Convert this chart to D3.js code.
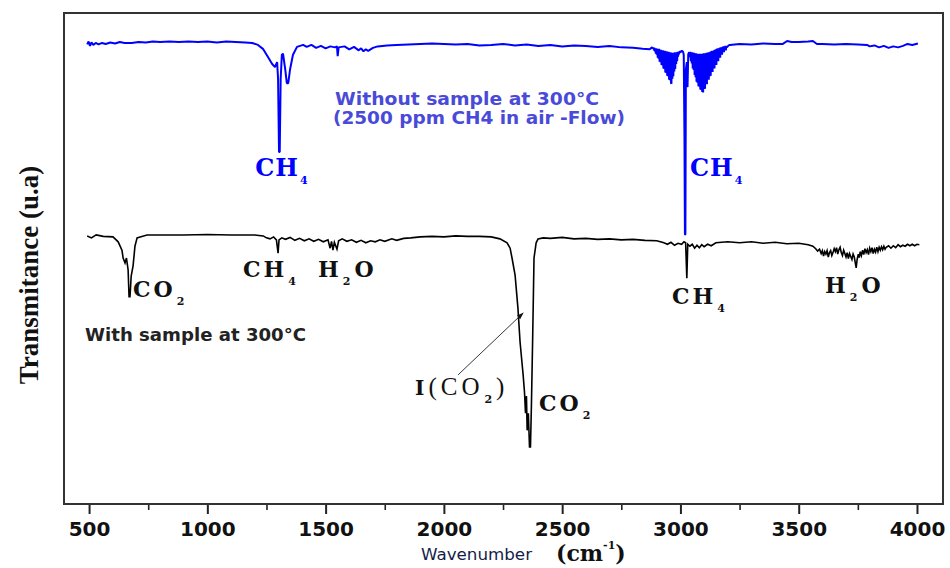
<!DOCTYPE html>
<html>
<head>
<meta charset="utf-8">
<script src="https://cdn.jsdelivr.net/npm/d3@7"></script>
<style>
  body { margin: 0; background: #fff; }
  svg { display: block; }
  .tick text { font-family: "DejaVu Sans", sans-serif; font-weight: bold; font-size: 20px; fill: #111; }
  .tick line { stroke: #222; stroke-width: 2; }
</style>
</head>
<body>
<div id="chart"></div>
<script>
// ---- DATA (wavenumber cm-1, transmittance a.u.) ----
var majorTicks = [500, 1000, 1500, 2000, 2500, 3000, 3500, 4000];
var minorTicks = [750, 1250, 1750, 2250, 2750, 3250, 3750];

// without sample, 2500 ppm CH4 in air
var blueSpectrum = [
  [492, 93.6], [498, 94.2], [504, 93.3], [510, 94.0], [518, 93.5], [528, 93.9], [540, 93.6], [555, 93.9],
  [570, 93.7], [590, 94.0], [610, 93.8], [630, 94.1], [650, 93.9], [680, 93.9], [710, 94.1], [740, 94.0],
  [770, 94.2], [800, 94.1], [840, 94.2], [880, 94.1], [920, 94.2], [960, 94.1], [1000, 94.2], [1040, 94.0],
  [1080, 94.2], [1120, 94.1], [1160, 94.0], [1190, 93.9], [1214, 93.5], [1235, 92.7], [1257, 91.0], [1274, 89.6],
  [1286, 89.0], [1295, 90.0], [1299, 86.6], [1303, 71.7], [1306, 71.7], [1310, 86.6], [1315, 91.5], [1320, 91.7],
  [1329, 88.6], [1336, 85.7], [1342, 85.7], [1350, 88.6], [1362, 91.5], [1379, 93.1], [1405, 93.5], [1420, 93.1],
  [1440, 93.5], [1460, 92.9], [1480, 93.3], [1500, 92.8], [1520, 93.2], [1540, 93.0], [1548, 93.2], [1551, 91.2],
  [1555, 93.0], [1580, 93.2], [1600, 92.6], [1620, 93.1], [1640, 92.4], [1650, 92.8], [1660, 92.2], [1670, 92.6],
  [1680, 92.3], [1700, 92.9], [1720, 93.2], [1760, 93.4], [1800, 93.5], [1850, 93.6], [1900, 93.7], [1950, 93.8],
  [2000, 93.7], [2050, 93.6], [2100, 93.7], [2150, 93.4], [2200, 93.5], [2250, 93.7], [2300, 93.4], [2350, 93.6],
  [2400, 93.3], [2450, 93.5], [2500, 93.2], [2550, 93.4], [2600, 93.3], [2650, 93.1], [2700, 93.3], [2750, 93.0],
  [2800, 92.9], [2840, 92.7], [2870, 92.6], [2880, 93.0],
  // P branch (dense rotational lines)
  [2884, 92.8], [2886, 93.0], [2888, 92.4], [2890, 92.9], [2892, 92.2], [2894, 92.8], [2896, 91.7], [2898, 92.8],
  [2900, 91.5], [2902, 92.7], [2904, 90.9], [2906, 92.6], [2908, 90.7], [2910, 92.7], [2912, 90.1], [2914, 92.5],
  [2916, 90.0], [2918, 92.5], [2920, 89.4], [2922, 92.4], [2924, 89.3], [2926, 92.4], [2928, 88.7], [2930, 92.3],
  [2932, 88.6], [2934, 92.3], [2936, 87.9], [2938, 92.2], [2940, 87.8], [2942, 92.2], [2944, 87.2], [2946, 92.1],
  [2948, 87.1], [2950, 92.1], [2952, 86.4], [2954, 92.0], [2956, 86.3], [2958, 92.0], [2960, 85.8], [2962, 85.6],
  [2964, 91.9], [2966, 86.6], [2968, 91.9], [2970, 87.1], [2972, 91.9], [2974, 88.1], [2976, 92.0], [2978, 88.6],
  [2980, 92.0], [2982, 89.6], [2984, 92.0], [2986, 90.2], [2988, 92.1], [2990, 91.1], [2992, 92.1], [2994, 91.6],
  [2996, 92.2], [3000, 92.0], [3006, 92.3], [3011, 92.1],
  // Q branch
  [3014, 91.5], [3017, 75.0], [3019, 54.9], [3021, 54.9], [3023, 88.5], [3027, 90.0], [3030, 84.9], [3033, 91.6],
  [3037, 92.0],
  // R branch
  [3040, 91.0], [3042, 92.1], [3044, 90.2], [3046, 92.0], [3048, 89.7], [3050, 92.0], [3052, 88.7], [3054, 91.9],
  [3056, 88.4], [3058, 91.9], [3060, 87.4], [3062, 91.8], [3064, 86.9], [3066, 91.8], [3068, 86.0], [3070, 91.7],
  [3072, 85.8], [3074, 91.7], [3076, 85.1], [3078, 91.7], [3080, 85.0], [3082, 91.7], [3084, 84.4], [3086, 91.7],
  [3088, 84.3], [3090, 91.7], [3092, 83.9], [3094, 91.7], [3096, 83.8], [3098, 91.8], [3100, 84.5], [3102, 91.8],
  [3104, 84.6], [3106, 91.8], [3108, 85.6], [3110, 91.9], [3112, 85.5], [3114, 91.9], [3116, 86.4], [3118, 92.0],
  [3120, 86.4], [3122, 92.0], [3124, 87.1], [3126, 92.1], [3128, 87.2], [3130, 92.2], [3132, 88.0], [3134, 92.3],
  [3136, 88.0], [3138, 92.3], [3140, 88.7], [3142, 92.4], [3144, 88.7], [3146, 92.5], [3148, 89.5], [3150, 92.6],
  [3152, 89.4], [3154, 92.7], [3156, 90.2], [3158, 92.8], [3160, 90.2], [3162, 92.8], [3164, 91.0], [3166, 92.9],
  [3168, 90.9], [3170, 93.0], [3172, 91.7], [3174, 93.0], [3176, 91.5], [3178, 93.1], [3180, 92.1], [3182, 93.2],
  [3184, 92.0], [3186, 93.2], [3188, 92.6], [3190, 93.3], [3192, 92.4], [3194, 93.3], [3196, 93.0], [3200, 93.2],
  [3204, 93.4], [3209, 93.5],
  [3250, 93.7], [3300, 93.6], [3350, 93.8], [3400, 93.7], [3433, 93.7], [3451, 94.3], [3470, 94.1], [3500, 94.1],
  [3540, 94.2], [3560, 94.3], [3577, 93.7], [3600, 93.7], [3650, 93.6], [3700, 93.7], [3750, 93.6], [3789, 93.5],
  [3800, 93.2], [3820, 93.4], [3840, 93.0], [3860, 93.3], [3880, 92.9], [3900, 93.2], [3920, 93.0], [3941, 93.3],
  [3960, 93.7], [3980, 93.5], [4004, 93.8]
];

// with sample at 300 C
var blackSpectrum = [
  [492, 54.6], [510, 54.2], [530, 54.8], [560, 54.5], [601, 54.4], [623, 53.4], [639, 51.7], [644, 50.1],
  [652, 49.1], [658, 50.1], [665, 47.7], [669, 42.2], [673, 42.2], [678, 46.4], [686, 48.5], [694, 52.5],
  [703, 54.2], [716, 54.4], [745, 54.8], [800, 54.8], [900, 54.8], [1000, 54.9], [1100, 54.8], [1200, 54.8],
  [1236, 54.6], [1250, 54.2], [1265, 54.0], [1280, 54.4], [1292, 53.8], [1299, 51.1], [1303, 53.8], [1315, 54.2],
  [1330, 53.9], [1350, 54.3], [1370, 53.7], [1390, 54.1], [1410, 53.6], [1430, 54.0], [1450, 53.5], [1470, 53.9],
  [1490, 53.4], [1510, 53.8], [1519, 52.1], [1525, 53.5], [1531, 51.7], [1537, 53.3], [1548, 51.9], [1555, 53.6],
  [1570, 54.0], [1590, 53.5], [1610, 53.8], [1630, 53.3], [1650, 53.7], [1670, 53.2], [1690, 53.6], [1710, 53.4],
  [1730, 53.8], [1750, 53.5], [1780, 54.0], [1800, 53.7], [1830, 54.1], [1860, 54.2], [1900, 54.4], [1950, 54.5],
  [2000, 54.4], [2050, 54.6], [2100, 54.5], [2150, 54.5], [2200, 54.4], [2237, 54.0], [2267, 53.2], [2280, 52.1],
  [2288, 50.1], [2301, 46.6], [2313, 39.9], [2322, 33.0], [2335, 26.3], [2341, 22.6], [2345, 18.5], [2349, 22.0],
  [2352, 15.0], [2357, 18.5], [2362, 11.6], [2366, 11.6], [2370, 20.0], [2375, 33.0], [2381, 50.1], [2390, 53.2],
  [2398, 54.0], [2420, 54.2], [2450, 54.1], [2500, 54.3], [2550, 54.0], [2600, 54.1], [2650, 53.9], [2700, 54.0],
  [2750, 53.8], [2800, 53.9], [2850, 53.7], [2900, 53.6], [2930, 53.2], [2945, 52.9], [2960, 53.3], [2975, 52.7],
  [2990, 53.1], [3005, 52.9], [3015, 53.4], [3022, 53.2], [3027, 46.0], [3031, 52.9], [3040, 52.5], [3050, 52.9],
  [3060, 52.1], [3070, 52.7], [3080, 52.2], [3090, 52.8], [3100, 52.4], [3115, 52.9], [3130, 52.6], [3150, 53.2],
  [3200, 53.4], [3250, 53.2], [3300, 53.4], [3350, 53.1], [3400, 53.3], [3450, 53.0], [3500, 53.1], [3540, 52.8],
  [3560, 52.5], [3572, 52.0], [3580, 51.5], [3588, 51.9], [3595, 51.0], [3600, 51.6], [3605, 50.5], [3610, 51.4],
  [3615, 50.9], [3620, 51.6], [3625, 50.3], [3630, 51.2], [3635, 51.6], [3640, 50.6], [3645, 51.2], [3650, 52.0],
  [3655, 51.4], [3660, 52.2], [3665, 50.9], [3670, 51.8], [3675, 52.3], [3680, 51.2], [3685, 50.6], [3690, 51.7],
  [3695, 51.0], [3700, 50.3], [3705, 51.2], [3710, 50.0], [3715, 51.0], [3720, 50.4], [3725, 49.8], [3730, 50.9],
  [3735, 50.3], [3740, 48.9], [3743, 48.1], [3747, 49.8], [3752, 50.9], [3756, 50.2], [3760, 51.4], [3765, 50.6],
  [3770, 51.7], [3775, 50.8], [3780, 52.0], [3785, 51.2], [3790, 51.8], [3795, 50.8], [3800, 52.1], [3805, 51.4],
  [3810, 52.2], [3815, 51.0], [3820, 51.9], [3825, 51.3], [3830, 52.3], [3835, 51.4], [3840, 52.3], [3845, 51.7],
  [3850, 52.4], [3855, 51.8], [3860, 52.5], [3865, 51.9], [3870, 52.3], [3880, 52.6], [3890, 52.1], [3900, 52.6],
  [3910, 52.2], [3920, 52.8], [3930, 52.4], [3940, 52.7], [3950, 52.5], [3960, 52.9], [3970, 52.6], [3980, 52.9],
  [3990, 52.6], [4000, 52.9], [4010, 52.8]
];

window.onload = function () {

    var width = 950,
        height = 568,
        blue = "#0000ff",
        noteBlue = "#4a4ad8";

    var svg = d3.select("#chart")
                .append("svg")
                .attr("width", width)
                .attr("height", height);

    // scales
    var x = d3.scaleLinear()
                .domain([394, 4110])
                .range([64, 943]);

    var y = d3.scaleLinear()
                .domain([0, 100])
                .range([504, 13]);

    // axes (ticks only, frame drawn below)
    var xAxis = d3.axisBottom(x)
                    .tickValues(majorTicks)
                    .tickSize(10)
                    .tickPadding(8)
                    .tickFormat(d3.format("d"));

    var xMinor = d3.axisBottom(x)
                    .tickValues(minorTicks)
                    .tickSize(6)
                    .tickFormat("");

    svg.append("g")
        .attr("transform", "translate(0," + y(0) + ")")
        .call(xAxis)
        .call(function (g) { g.select(".domain").remove(); });

    svg.append("g")
        .attr("transform", "translate(0," + y(0) + ")")
        .call(xMinor)
        .call(function (g) { g.select(".domain").remove(); })
        .selectAll("line").style("stroke-width", 1.6);

    svg.append("rect")
        .attr("x", x.range()[0])
        .attr("y", y.range()[1])
        .attr("width", x.range()[1] - x.range()[0])
        .attr("height", y.range()[0] - y.range()[1])
        .attr("fill", "none")
        .attr("stroke", "#333")
        .attr("stroke-width", 2);

    // spectra
    var line = d3.line()
                .x(function (d) { return x(d[0]); })
                .y(function (d) { return y(d[1]); });

    svg.append("path")
        .datum(blackSpectrum)
        .attr("d", line)
        .attr("fill", "none")
        .attr("stroke", "#000")
        .attr("stroke-width", 1.6);

    svg.append("path")
        .datum(blueSpectrum)
        .attr("d", line)
        .attr("fill", "none")
        .attr("stroke", blue)
        .attr("stroke-width", 2)
        .attr("stroke-linejoin", "bevel");

    // arrow to the I(CO2) shoulder
    svg.append("defs").append("marker")
        .attr("id", "head")
        .attr("viewBox", "0 0 10 10")
        .attr("refX", 9).attr("refY", 5)
        .attr("markerWidth", 8).attr("markerHeight", 8)
        .attr("orient", "auto")
        .append("path")
            .attr("d", "M0,1.5L10,5L0,8.5Z")
            .attr("fill", "#111");

    svg.append("line")
        .attr("x1", x(2060)).attr("y1", y(26.3))
        .attr("x2", x(2335)).attr("y2", y(38.9))
        .attr("stroke", "#222")
        .attr("stroke-width", 0.9)
        .attr("marker-end", "url(#head)");

    // band labels
    var serifB = "'DejaVu Serif', serif",
        serifN = "'Liberation Serif', serif";

    var bandLabels = [
        {wn: 1202, v: 66.8, size: 24, gap: 1, color: blue, parts: [{t: "CH"}, {t: "4", sub: true}]},
        {wn: 3040, v: 66.8, size: 24, gap: 1, color: blue, parts: [{t: "CH"}, {t: "4", sub: true}]},
        {wn: 686,  v: 42.2, size: 22, gap: 3, color: "#111", parts: [{t: "CO"}, {t: "2", sub: true}]},
        {wn: 1151, v: 46.2, size: 22, gap: 3, color: "#111", parts: [{t: "CH"}, {t: "4", sub: true}]},
        {wn: 1468, v: 46.2, size: 22, gap: 3, color: "#111", parts: [{t: "H"}, {t: "2", sub: true}, {t: "O"}]},
        {wn: 2964, v: 40.7, size: 22, gap: 3, color: "#111", parts: [{t: "CH"}, {t: "4", sub: true}]},
        {wn: 3611, v: 43.0, size: 22, gap: 3, color: "#111", parts: [{t: "H"}, {t: "2", sub: true}, {t: "O"}]},
        {wn: 2402, v: 18.9, size: 22, gap: 3, color: "#111", parts: [{t: "CO"}, {t: "2", sub: true}]},
        {wn: 1878, v: 22.2, size: 20, gap: 4, color: "#111",
            parts: [{t: "I"}, {t: "(CO", w: "normal", f: serifN, s: 25}, {t: "2", sub: true}, {t: ")", w: "normal", f: serifN, s: 25}]}
    ];

    bandLabels.forEach(function (lb) {
        var txt = svg.append("text")
            .attr("x", x(lb.wn))
            .attr("y", y(lb.v))
            .attr("fill", lb.color)
            .style("font-family", serifB)
            .style("font-weight", "bold")
            .style("font-size", lb.size + "px")
            .style("letter-spacing", lb.gap + "px");

        var down = false;
        lb.parts.forEach(function (p) {
            var ts = txt.append("tspan").text(p.t);
            if (p.sub) {
                ts.attr("dy", 8).attr("dx", 1)
                  .style("font-size", "11px")
                  .style("letter-spacing", "1px");
                down = true;
            } else {
                if (down) { ts.attr("dy", -8).attr("dx", 3); down = false; }
                if (p.w) ts.style("font-weight", p.w);
                if (p.f) ts.style("font-family", p.f);
                if (p.s) ts.style("font-size", p.s + "px");
            }
        });
    });

    // sample notes
    var notes = [
        {wn: 1540, v: 81.3, text: "Without sample at 300°C", color: noteBlue, len: 264},
        {wn: 1531, v: 77.4, text: "(2500 ppm CH4 in air -Flow)", color: noteBlue, len: 292},
        {wn: 483,  v: 33.2, text: "With sample at 300°C", color: "#222", len: 221}
    ];

    svg.selectAll(".note")
        .data(notes)
        .enter()
        .append("text")
            .attr("class", "note")
            .attr("x", function (d) { return x(d.wn); })
            .attr("y", function (d) { return y(d.v); })
            .attr("fill", function (d) { return d.color; })
            .attr("textLength", function (d) { return d.len; })
            .attr("lengthAdjust", "spacingAndGlyphs")
            .style("font-family", "'DejaVu Sans', sans-serif")
            .style("font-weight", "bold")
            .style("font-size", "17px")
            .text(function (d) { return d.text; });

    // axis titles
    svg.append("text")
        .attr("transform", "translate(38,275) rotate(-90)")
        .attr("text-anchor", "middle")
        .style("font-family", "'Liberation Serif', serif")
        .style("font-weight", "bold")
        .style("font-size", "27px")
        .attr("fill", "#111")
        .text("Transmitance (u.a)");

    svg.append("text")
        .attr("x", 421)
        .attr("y", 560)
        .attr("fill", "#141c48")
        .attr("textLength", 111)
        .attr("lengthAdjust", "spacingAndGlyphs")
        .style("font-family", "'DejaVu Sans', sans-serif")
        .style("font-size", "16px")
        .text("Wavenumber");

    var unit = svg.append("text")
        .attr("x", 556)
        .attr("y", 561)
        .attr("fill", "#111")
        .style("font-family", "'DejaVu Serif', serif")
        .style("font-weight", "bold")
        .style("font-size", "22px");
    unit.append("tspan").text("(cm");
    unit.append("tspan").attr("dy", -12).style("font-size", "11px").text("-1");
    unit.append("tspan").attr("dy", 12).text(")");
};
</script>
</body>
</html>
